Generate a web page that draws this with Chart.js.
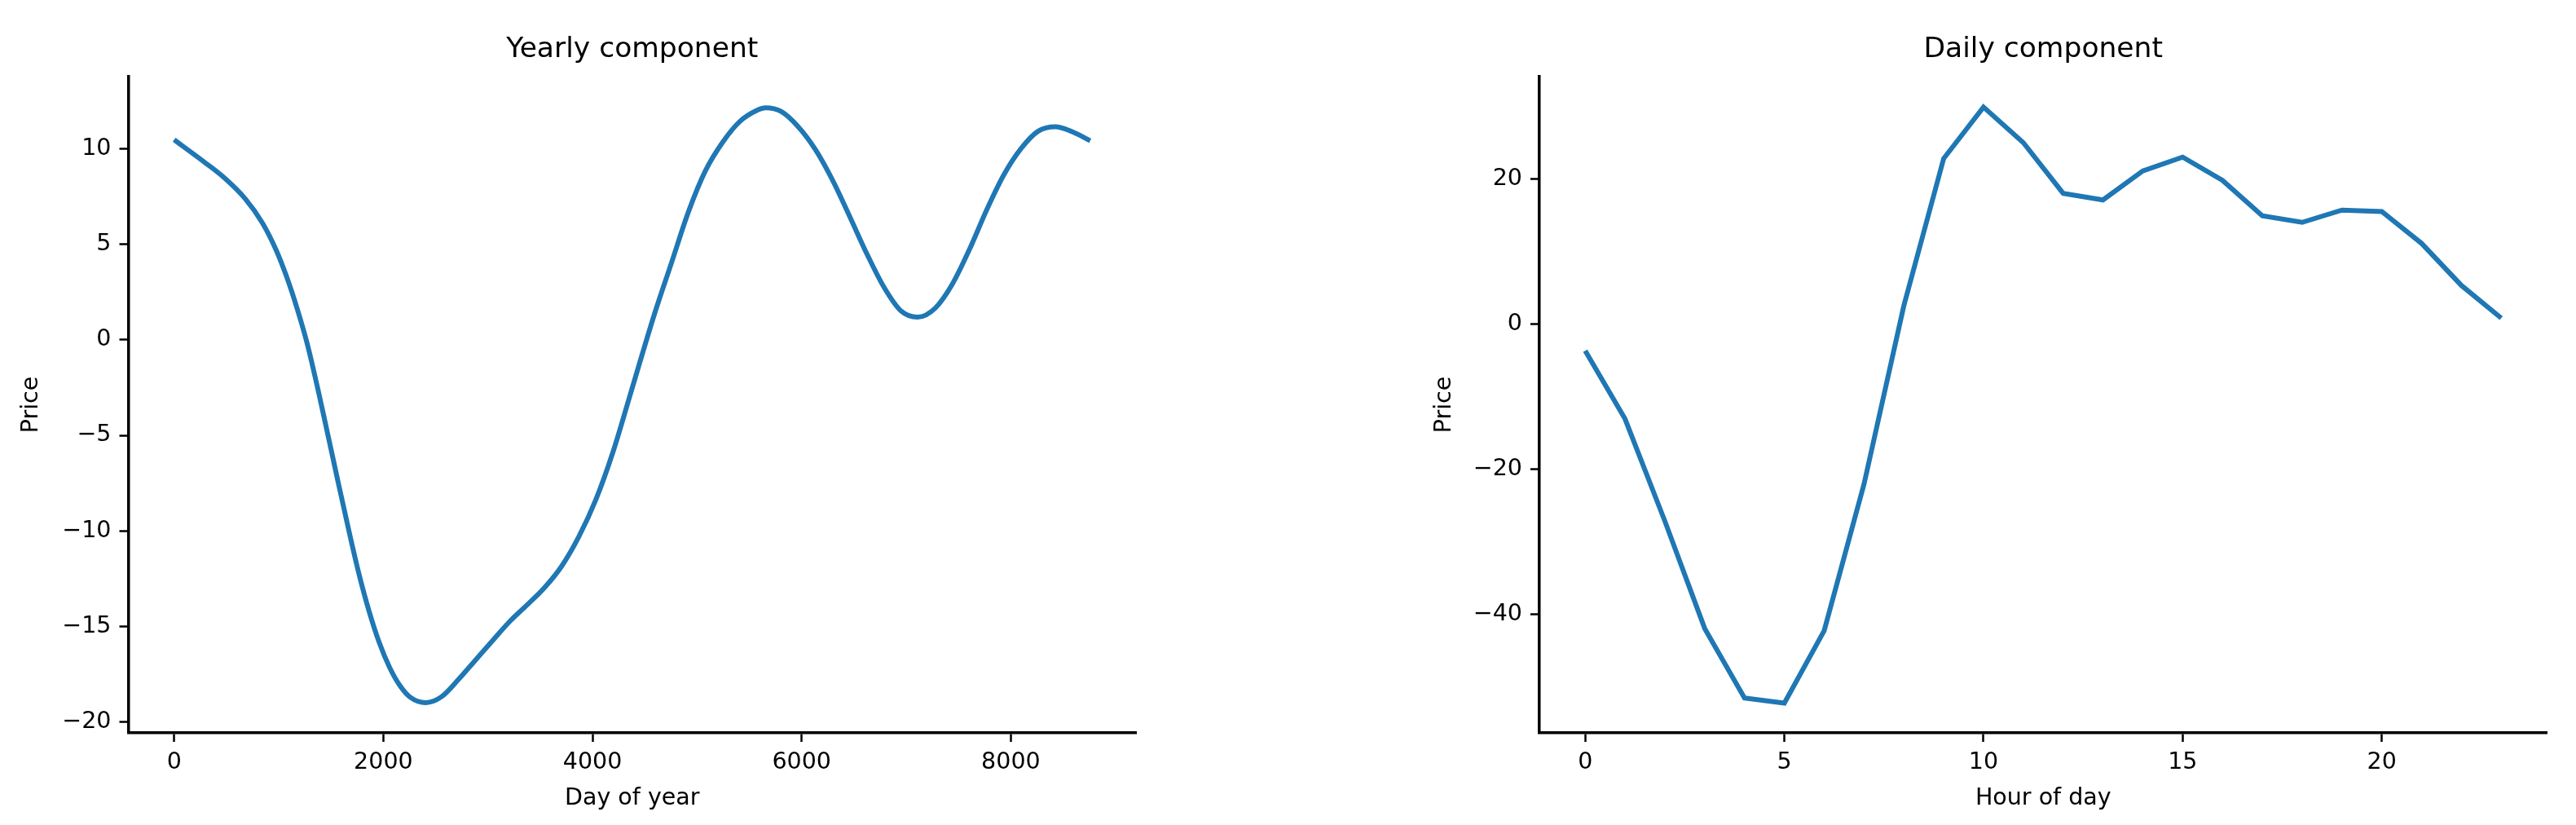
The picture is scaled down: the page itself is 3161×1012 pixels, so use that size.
<!DOCTYPE html>
<html lang="en">
<head>
    <meta charset="UTF-8">
    <title>Yearly and daily component</title>
    <script src="https://cdn.jsdelivr.net/npm/chart.js@4.4.0/dist/chart.umd.min.js"></script>
    <style>
        html, body {
            margin: 0;
            padding: 0;
            background-color: #fff;
        }
        body {
            position: relative;
            width: 3161px;
            height: 1012px;
            overflow: hidden;
        }
        .panel {
            position: absolute;
            top: 0;
            height: 1012px;
        }
        #yearlyBox { left: 0; width: 1450px; }
        #dailyBox { left: 1720px; width: 1441px; }
    </style>
</head>
<body>
    <div class="panel" id="yearlyBox"><canvas id="yearlyChart"></canvas></div>
    <div class="panel" id="dailyBox"><canvas id="dailyChart"></canvas></div>

    <script>
        // Yearly component (x = hour index within the year)
        const yearlyHours = [0, 89, 286, 483, 680, 845, 976, 1075, 1173, 1272, 1371, 1469, 1568, 1667, 1765,
            1864, 1962, 2061, 2160, 2258, 2406, 2554, 2718, 2883, 3047, 3211, 3376, 3540, 3704, 3869,
            4033, 4197, 4362, 4590, 4754, 4918, 5082, 5246, 5410, 5574, 5656, 5803, 5967, 6131, 6295,
            6459, 6623, 6787, 6951, 7108, 7278, 7442, 7606, 7770, 7934, 8098, 8262, 8426, 8590, 8759];
        const yearlyPrice = [10.46, 10.1, 9.3, 8.45, 7.37, 6.1, 4.68, 3.3, 1.68, -0.2, -2.5, -4.95, -7.45, -9.9, -12.2,
            -14.2, -15.85, -17.15, -18.1, -18.7, -18.98, -18.68, -17.77, -16.74, -15.72, -14.72, -13.86, -12.97, -11.85, -10.3,
            -8.35, -5.85, -2.85, 1.3, 4.0, 6.7, 8.86, 10.34, 11.42, 12.0, 12.13, 11.94, 11.14, 9.95, 8.35,
            6.45, 4.5, 2.75, 1.5, 1.18, 1.66, 2.92, 4.74, 6.8, 8.63, 10.0, 10.91, 11.14, 10.87, 10.41];

        // Daily component
        const dailyHours = [0, 1, 2, 3, 4, 5, 6, 7, 8, 9, 10, 11, 12, 13, 14, 15, 16, 17, 18, 19, 20, 21, 22, 23];
        const dailyPrice = [-3.7, -13.1, -27.2, -42.0, -51.6, -52.3, -42.3, -22.1, 2.5, 22.8, 29.9, 25.0,
            18.0, 17.1, 21.1, 23.0, 19.8, 14.9, 14.0, 15.7, 15.5, 11.1, 5.3, 0.8];

        // tick labels
        const yearlyXTicks = [0, 2000, 4000, 6000, 8000];
        const yearlyYTicks = [-20, -15, -10, -5, 0, 5, 10];
        const dailyXTicks = [0, 5, 10, 15, 20];
        const dailyYTicks = [-40, -20, 0, 20];

        Chart.defaults.font.family = "'DejaVu Sans', sans-serif";
        Chart.defaults.color = '#000';

        function fmt(v) {
            return String(v).replace('-', '\u2212');
        }

        function axis(title, ticks, min, max, size, titlePad, isY) {
            return {
                type: 'linear',
                min: min,
                max: max,
                afterBuildTicks: (s) => { s.ticks = ticks.map(v => ({ value: v })); },
                afterFit: (s) => { if (isY) s.width = size; else s.height = size; },
                border: { display: true, color: '#000', width: 3.5 },
                grid: {
                    display: true,
                    drawOnChartArea: false,
                    drawTicks: true,
                    tickLength: 11,
                    tickWidth: 2.5,
                    tickColor: '#000'
                },
                ticks: {
                    autoSkip: false,
                    maxRotation: 0,
                    padding: isY ? 10 : 8,
                    font: { size: 28.5 },
                    callback: (v) => fmt(v)
                },
                title: {
                    display: true,
                    text: title,
                    font: { size: 28.5 },
                    padding: titlePad
                }
            };
        }

        function makeChart(id, cfg) {
            const points = cfg.xs.map((x, i) => ({ x: x, y: cfg.ys[i] }));
            return new Chart(document.getElementById(id), {
                type: 'line',
                data: {
                    datasets: [{
                        data: points,
                        borderColor: '#1f77b4',
                        borderWidth: 6,
                        pointRadius: 0,
                        fill: false,
                        cubicInterpolationMode: cfg.smooth ? 'monotone' : 'default',
                        tension: 0
                    }]
                },
                options: {
                    responsive: true,
                    maintainAspectRatio: false,
                    animation: false,
                    layout: { padding: { left: 0, right: cfg.padRight, top: 0, bottom: 0 } },
                    plugins: {
                        legend: { display: false },
                        tooltip: { enabled: false },
                        title: {
                            display: true,
                            text: cfg.title,
                            fullSize: false,
                            font: { size: 34.5, weight: 'normal' },
                            padding: { top: 40, bottom: 12.6 }
                        }
                    },
                    scales: {
                        x: axis(cfg.xLabel, cfg.xTicks, cfg.xMin, cfg.xMax, 113, { top: 0, bottom: 15 }, false),
                        y: axis('Price', cfg.yTicks, cfg.yMin, cfg.yMax, cfg.yWidth, { top: cfg.yTitlePad, bottom: 0 }, true)
                    }
                }
            });
        }

        makeChart('yearlyChart', {
            title: 'Yearly component',
            xLabel: 'Day of year',
            xs: yearlyHours, ys: yearlyPrice,
            xTicks: yearlyXTicks, yTicks: yearlyYTicks,
            xMin: -438, xMax: 9197, yMin: -20.56, yMax: 13.76,
            yWidth: 157.5, padRight: 56, yTitlePad: 21, smooth: true
        });

        makeChart('dailyChart', {
            title: 'Daily component',
            xLabel: 'Hour of day',
            xs: dailyHours, ys: dailyPrice,
            xTicks: dailyXTicks, yTicks: dailyYTicks,
            xMin: -1.15, xMax: 24.15, yMin: -56.4, yMax: 34.1,
            yWidth: 169, padRight: 35.5, yTitlePad: 35, smooth: false
        });
    </script>
</body>
</html>
